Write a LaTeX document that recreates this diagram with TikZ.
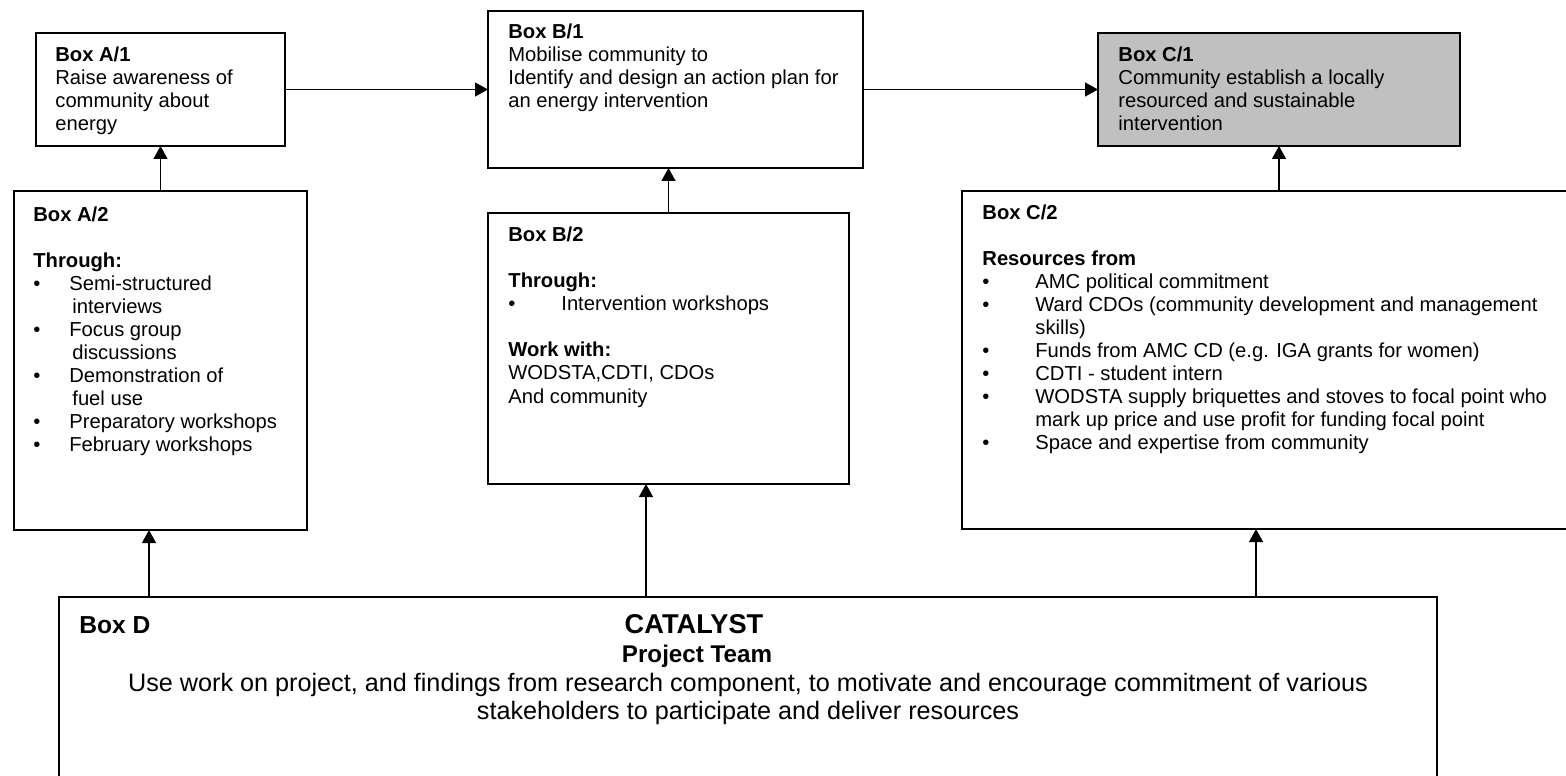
\documentclass[tikz,border=0pt]{standalone}
\usepackage{fontspec}
\setmainfont{Liberation Sans}
\usetikzlibrary{arrows.meta}
\definecolor{boxgray}{RGB}{192,192,192}

% text block whose first baseline sits on the node's base anchor
\newcommand\txtblock[1]{\parbox[t]{340pt}{\raggedright #1}}
% bullet items: bullet at the left margin, text at a fixed indent
\newcommand\bulA[1]{\makebox[18pt][l]{\textbullet}#1}
\newcommand\bulB[1]{\makebox[26.5pt][l]{\textbullet}#1}

\begin{document}
\begin{tikzpicture}[x=0.5pt,y=-0.5pt,
  box/.style={draw=black, line width=0.65pt, rectangle, inner sep=0pt, outer sep=0pt},
  arr/.style={line width=0.65pt, -{Triangle[length=6.5pt,width=7pt]}},
  txt/.style={anchor=base west, inner sep=0pt, font=\fontsize{10.1}{11.5}\selectfont},
  dtxt/.style={anchor=base, inner sep=0pt, font=\fontsize{12.6}{14}\selectfont},
]
\useasboundingbox (0,0) rectangle (1566,775);
\clip (0,0) rectangle (1566,775);

% boxes
\node[box, minimum width=124.5pt, minimum height=56.5pt] (A1) at (160.5,89.5) {};
\node[box, minimum width=146.5pt, minimum height=169.5pt] (A2) at (160.5,360.5) {};
\node[box, minimum width=187.5pt, minimum height=78.5pt] (B1) at (675.5,89.5) {};
\node[box, minimum width=180.5pt, minimum height=135.5pt] (B2) at (668.5,348.5) {};
\node[box, fill=boxgray, minimum width=181pt, minimum height=56.5pt] (C1) at (1279,89.5) {};
\node[box, minimum width=329pt, minimum height=169pt] (C2) at (1291,360) {};
\node[box, minimum width=689pt, minimum height=111.5pt] (D) at (748,708.5) {};

% box texts
\node[txt] (tA1) at (55,62) {\txtblock{\textbf{Box A/1}\\Raise awareness of\\community about\\energy}};
\node[txt] (tB1) at (508,39) {\txtblock{\textbf{Box B/1}\\Mobilise community to\\Identify and design an action plan for\\an energy intervention}};
\node[txt] (tC1) at (1118,62) {\txtblock{\textbf{Box C/1}\\Community establish a locally\\resourced and sustainable\\intervention}};

\node[txt] (tA2) at (33,221) {\txtblock{\textbf{Box A/2}\\[11.5pt]
  \textbf{Through:}\\
  \bulA{Semi-structured}\\
  \hspace*{19.5pt}interviews\\
  \bulA{Focus group}\\
  \hspace*{19.5pt}discussions\\
  \bulA{Demonstration of}\\
  \hspace*{19.5pt}fuel use\\
  \bulA{Preparatory workshops}\\
  \bulA{February workshops}}};

\node[txt] (tB2) at (508,242) {\txtblock{\textbf{Box B/2}\\[11.5pt]
  \textbf{Through:}\\
  \bulB{Intervention workshops}\\[11.5pt]
  \textbf{Work with:}\\
  WODSTA,CDTI, CDOs\\
  And community}};

\node[txt] (tC2) at (982,220) {\txtblock{\textbf{Box C/2}\\[11.5pt]
  \textbf{Resources from}\\
  \bulB{AMC political commitment}\\
  \bulB{Ward CDOs (community development and management}\\
  \hspace*{26.5pt}skills)\\
  \bulB{Funds from AMC CD (e.g. IGA grants for women)}\\
  \bulB{CDTI - student intern}\\
  \bulB{WODSTA supply briquettes and stoves to focal point who}\\
  \hspace*{26.5pt}mark up price and use profit for funding focal point\\
  \bulB{Space and expertise from community}}};

% catalyst box texts
\node[dtxt, anchor=base west, font=\fontsize{12.3}{14}\selectfont\bfseries] (tD) at (79,633) {Box D};
\node[dtxt, font=\fontsize{13.6}{16}\selectfont\bfseries] (tCat) at (694,633) {CATALYST};
\node[dtxt, font=\fontsize{12.1}{14}\selectfont\bfseries] (tTeam) at (697,662) {Project Team};
\node[dtxt] (tUse1) at (748,691) {Use work on project, and findings from research component, to motivate and encourage commitment of various};
\node[dtxt] (tUse2) at (748,719) {stakeholders to participate and deliver resources};

% flow along the top row
\draw[arr] (A1) -- (B1);
\draw[arr] (B1) -- (C1);

% second row feeding the top row
\draw[arr] (A2) -- (A1);
\draw[arr] (B2.north) -- (B2.north |- B1.south);
\draw[arr] (C1.south |- C2.north) -- (C1.south);

% catalyst feeding the second row
\coordinate (dA) at (149,597);
\coordinate (dB) at (646,597);
\coordinate (dC) at (1256,597);
\draw[arr] (dA) -- (dA |- A2.south);
\draw[arr] (dB) -- (dB |- B2.south);
\draw[arr] (dC) -- (dC |- C2.south);
\end{tikzpicture}
\end{document}
